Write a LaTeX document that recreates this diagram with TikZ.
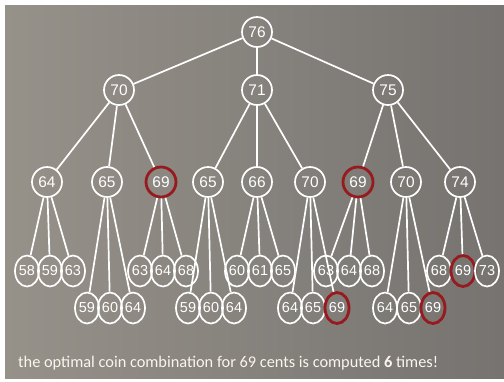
\documentclass[tikz,border=0pt]{standalone}
\usepackage{fontspec}
\setmainfont{Liberation Sans}
\newfontfamily\captfont{Carlito}
\usetikzlibrary{shapes.geometric}
\definecolor{bgleft}{RGB}{150,145,137}
\definecolor{bgright}{RGB}{118,115,112}
\definecolor{hotred}{RGB}{150,26,30}
\definecolor{capcol}{RGB}{250,246,238}
\tikzset{
  circ/.style={circle, draw=white, line width=1.7bp, minimum size=30bp, inner sep=0pt,
    text=white, font=\fontsize{15.5}{16}\selectfont},
  ell/.style={ellipse, draw=white, line width=1.7bp, minimum width=24bp, minimum height=31bp, inner sep=0pt,
    text=white, font=\fontsize{14.5}{15}\selectfont},
  hot/.style={draw=hotred, line width=2.8bp},
  link/.style={draw=white, line width=1.7bp},
}
\begin{document}
\begin{tikzpicture}[x=1bp,y=-1bp]
\useasboundingbox (0,0) rectangle (504,381);
\fill[white] (0,0) rectangle (504,381);
\shade[left color=bgleft, right color=bgright] (5,5) rectangle (504,378);
% level 0
\node[circ] (r) at (257,32) {76};
% level 1
\node[circ] (a) at (119,90) {70};
\node[circ] (b) at (257,90) {71};
\node[circ] (c) at (388,90) {75};
% level 2
\node[circ] (a1) at (47,182) {64};
\node[circ] (a2) at (107,182) {65};
\node[circ,hot] (a3) at (161,182) {69};
\node[circ] (b1) at (208,182) {65};
\node[circ] (b2) at (257,182) {66};
\node[circ] (b3) at (310,182) {70};
\node[circ,hot] (c1) at (358,182) {69};
\node[circ] (c2) at (406,182) {70};
\node[circ] (c3) at (460,182) {74};
% level 3, upper row
\node[ell] (a11) at (27,271) {58};
\node[ell] (a12) at (50,271) {59};
\node[ell] (a13) at (73,271) {63};
\node[ell] (a31) at (140,271) {63};
\node[ell] (a32) at (163,271) {64};
\node[ell] (a33) at (186,271) {68};
\node[ell] (b21) at (237,271) {60};
\node[ell] (b22) at (260,271) {61};
\node[ell] (b23) at (283,271) {65};
\node[ell] (c11) at (326,271) {63};
\node[ell] (c12) at (349,271) {64};
\node[ell] (c13) at (372,271) {68};
\node[ell] (c31) at (439,271) {68};
\node[ell,hot] (c32) at (463,271) {69};
\node[ell] (c33) at (487,271) {73};
% level 3, lower row
\node[ell] (a21) at (87,308) {59};
\node[ell] (a22) at (110,308) {60};
\node[ell] (a23) at (133,308) {64};
\node[ell] (b11) at (188,308) {59};
\node[ell] (b12) at (211,308) {60};
\node[ell] (b13) at (234,308) {64};
\node[ell] (b31) at (290,308) {64};
\node[ell] (b32) at (313,308) {65};
\node[ell,hot] (b33) at (337,308) {69};
\node[ell] (c21) at (385,308) {64};
\node[ell] (c22) at (409,308) {65};
\node[ell,hot] (c23) at (433,308) {69};
% links
\foreach \p/\q in {r/a,r/b,r/c,
  a/a1,a/a2,a/a3,b/b1,b/b2,b/b3,c/c1,c/c2,c/c3,
  a1/a11,a1/a12,a1/a13,a2/a21,a2/a22,a2/a23,a3/a31,a3/a32,a3/a33,
  b1/b11,b1/b12,b1/b13,b2/b21,b2/b22,b2/b23,b3/b31,b3/b32,b3/b33,
  c1/c11,c1/c12,c1/c13,c2/c21,c2/c22,c2/c23,c3/c31,c3/c32,c3/c33}
  \draw[link] (\p) -- (\q);
% caption
\node[anchor=west, text=capcol, font=\captfont\fontsize{16.4}{18}\selectfont, inner sep=0pt] (cap) at (18,363)
  {the optimal coin combination for 69 cents is computed \textbf{6} times!};
\end{tikzpicture}
\end{document}
